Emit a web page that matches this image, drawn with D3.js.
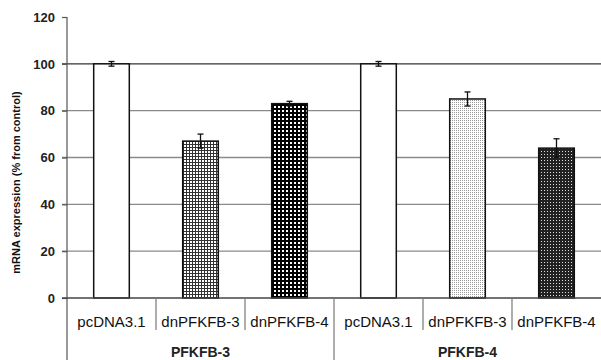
<!DOCTYPE html>
<html><head><meta charset="utf-8">
<script src="https://cdn.jsdelivr.net/npm/d3@7"></script>
<style>body{margin:0;background:#fff}svg{display:block}</style>
</head><body>
<svg id="c" width="601" height="360"></svg>
<script>
const groups = ["PFKFB-3", "PFKFB-4"];
const categories = ["pcDNA3.1", "dnPFKFB-3", "dnPFKFB-4"];
const values = [100, 67, 83, 100, 85, 64];
const errors = [1, 3, 1, 1, 3, 4];
const patterns = ["white", "fineGrid", "bigDots", "white", "lightDots", "darkCheck"];
const yTicks = [0, 20, 40, 60, 80, 100, 120];
const yLabel = "mRNA expression (% from control)";

(function () {
const svg = d3.select("#c");
const W = 601, H = 360;
const mLeft = 67, mRight = 601, mTop = 17, mBottom = 298;

const rows = [];
groups.forEach((g, gi) => categories.forEach((c, ci) => {
  const i = gi * categories.length + ci;
  rows.push({id: g + "|" + c, group: g, cat: c, v: values[i], e: errors[i], p: patterns[i], gi, ci});
}));

const x = d3.scaleBand().domain(rows.map(d => d.id)).range([mLeft, mRight]).paddingInner(0.6).paddingOuter(0.3);
const y = d3.scaleLinear().domain([0, 120]).range([mBottom, mTop]);

// patterns
const defs = svg.append("defs");
function pat(id, size, draw) {
  const p = defs.append("pattern").attr("id", id).attr("patternUnits", "userSpaceOnUse")
    .attr("width", size).attr("height", size);
  draw(p);
}
pat("fineGrid", 3, p => {
  p.append("rect").attr("width", 3).attr("height", 3).attr("fill", "#fff");
  p.append("rect").attr("width", 3).attr("height", 1).attr("fill", "#333");
  p.append("rect").attr("width", 1).attr("height", 3).attr("fill", "#333");
});
pat("bigDots", 4, p => {
  p.append("rect").attr("width", 4).attr("height", 4).attr("fill", "#fff");
  p.append("rect").attr("width", 4).attr("height", 2).attr("fill", "#000");
  p.append("rect").attr("width", 2).attr("height", 4).attr("fill", "#000");
});
pat("lightDots", 2, p => {
  p.append("rect").attr("width", 2).attr("height", 2).attr("fill", "#fff");
  p.append("rect").attr("width", 1).attr("height", 1).attr("fill", "#999");
});
pat("darkCheck", 3, p => {
  p.append("rect").attr("width", 3).attr("height", 3).attr("fill", "#222");
  p.append("rect").attr("x", 1).attr("y", 1).attr("width", 1).attr("height", 1).attr("fill", "#ddd");
});

// gridlines
svg.append("g").selectAll("line").data(yTicks.filter(t => t > 0 && t < 120)).join("line")
  .attr("x1", mLeft - 5).attr("x2", mRight).attr("y1", d => y(d)).attr("y2", d => y(d))
  .attr("stroke", d => d === 100 ? "#333" : "#8a8a8a").attr("stroke-width", 1.3);

// y axis
const yAxis = d3.axisLeft(y).tickValues(yTicks).tickSize(5).tickPadding(6);
const ya = svg.append("g").attr("transform", `translate(${mLeft},0)`).call(yAxis);
ya.select(".domain").remove();
ya.selectAll(".tick line").attr("stroke", "#555").attr("stroke-width", 1.2);
ya.selectAll(".tick text").attr("font-family", "Liberation Sans, Arial, sans-serif")
  .attr("font-size", 13).attr("font-weight", "bold").attr("fill", "#222").attr("dx", -1);
svg.append("line").attr("x1", mLeft).attr("x2", mLeft).attr("y1", mTop).attr("y2", H)
  .attr("stroke", "#555").attr("stroke-width", 1.2);

// y label
svg.append("text").attr("transform", `translate(20,${(mTop + mBottom) / 2 + 25}) rotate(-90)`)
  .attr("text-anchor", "middle").attr("font-family", "Liberation Sans, Arial, sans-serif")
  .attr("font-size", 11).attr("font-weight", "bold").attr("fill", "#111").text(yLabel);

// bars
svg.append("g").selectAll("rect").data(rows).join("rect")
  .attr("x", d => x(d.id)).attr("width", x.bandwidth())
  .attr("y", d => y(d.v)).attr("height", d => y(0) - y(d.v))
  .attr("fill", d => d.p === "white" ? "#fff" : `url(#${d.p})`)
  .attr("stroke", "#111").attr("stroke-width", 1.5);

// error bars
const eb = svg.append("g").attr("stroke", "#111").attr("stroke-width", 1.3);
rows.forEach(d => {
  const cx = x(d.id) + x.bandwidth() / 2;
  eb.append("line").attr("x1", cx).attr("x2", cx).attr("y1", y(d.v - d.e)).attr("y2", y(d.v + d.e));
  eb.append("line").attr("x1", cx - 3).attr("x2", cx + 3).attr("y1", y(d.v + d.e)).attr("y2", y(d.v + d.e));
  eb.append("line").attr("x1", cx - 3).attr("x2", cx + 3).attr("y1", y(d.v - d.e)).attr("y2", y(d.v - d.e));
});

// x axis baseline
svg.append("line").attr("x1", mLeft - 5).attr("x2", mRight).attr("y1", y(0)).attr("y2", y(0))
  .attr("stroke", "#444").attr("stroke-width", 1.3);

// category table separators
const step = x.step();
const sep = svg.append("g").attr("stroke", "#777").attr("stroke-width", 1.2);
rows.forEach((d, i) => {
  if (i === 0) return;
  const bx = x(d.id) - x.paddingInner() * step / 2;
  const full = d.ci === 0;
  sep.append("line").attr("x1", bx).attr("x2", bx).attr("y1", y(0)).attr("y2", full ? H : 330);
});

// category labels
svg.append("g").selectAll("text").data(rows).join("text")
  .attr("x", d => x(d.id) + x.bandwidth() / 2).attr("y", 327)
  .attr("text-anchor", "middle").attr("font-family", "Liberation Sans, Arial, sans-serif")
  .attr("font-size", 15).attr("fill", "#111").text(d => d.cat);

// group labels
svg.append("g").selectAll("text").data(groups).join("text")
  .attr("x", (g, gi) => {
    const ids = rows.filter(r => r.gi === gi);
    return (x(ids[0].id) + x(ids[ids.length - 1].id) + x.bandwidth()) / 2;
  }).attr("y", 357)
  .attr("text-anchor", "middle").attr("font-family", "Liberation Sans, Arial, sans-serif")
  .attr("font-size", 14).attr("font-weight", "bold").attr("fill", "#222").text(g => g);
})();
</script>
</body></html>
